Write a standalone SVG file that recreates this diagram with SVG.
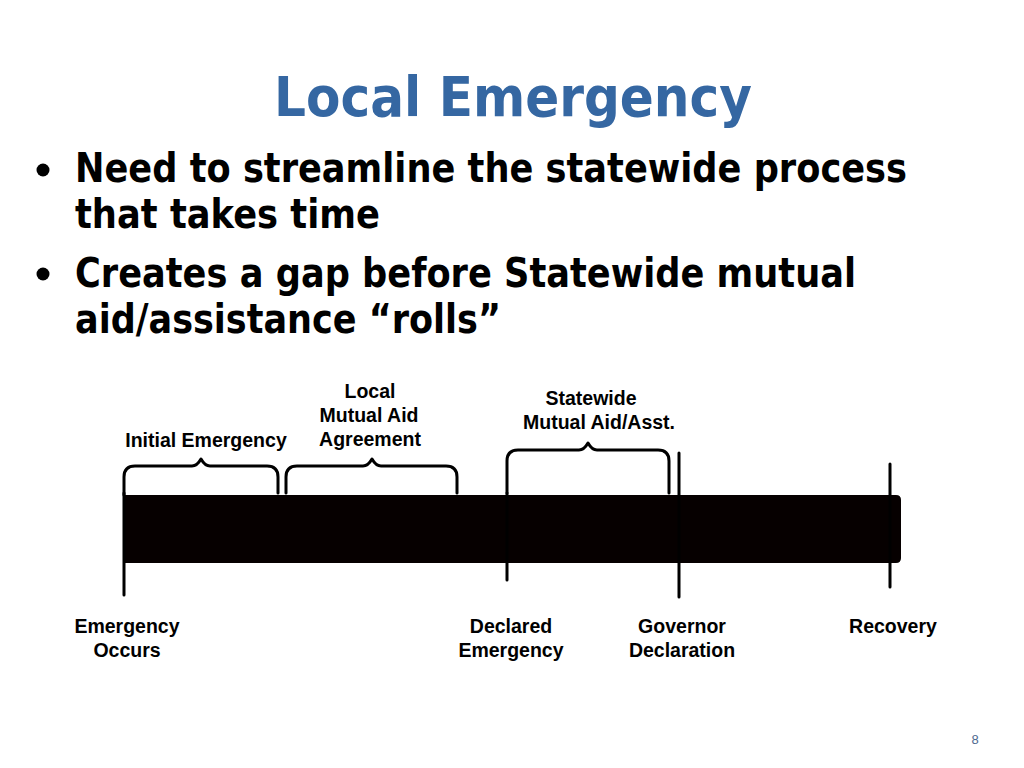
<svg xmlns="http://www.w3.org/2000/svg" width="1024" height="768" viewBox="0 0 1024 768">
<style>
.title{font-family:"DejaVu Sans","Liberation Sans",sans-serif;font-weight:bold;font-size:55px;fill:#3567A2}
.bul{font-family:"DejaVu Sans","Liberation Sans",sans-serif;font-weight:bold;font-size:40px;fill:#000}
.lbl{font-family:"Liberation Sans",Arial,sans-serif;font-weight:bold;font-size:19.5px;fill:#000;text-anchor:middle}
.brace{fill:none;stroke:#000;stroke-width:3;stroke-linecap:round;stroke-linejoin:round}
.tick{stroke:#000;stroke-width:3;stroke-linecap:round}
.pg{font-family:"Liberation Sans",Arial,sans-serif;font-size:13px;fill:#4d6a8f}
</style>
<rect width="1024" height="768" fill="#fff"/>
<g id="title">
<text class="title" x="274" y="116" textLength="478" lengthAdjust="spacingAndGlyphs">Local Emergency</text>
</g>
<g id="bullets">
<circle cx="43" cy="170" r="6.5" fill="#000"/>
<text class="bul" x="75" y="182" textLength="832" lengthAdjust="spacingAndGlyphs">Need to streamline the statewide process</text>
<text class="bul" x="75" y="228" textLength="305" lengthAdjust="spacingAndGlyphs">that takes time</text>
<circle cx="43" cy="274" r="6.5" fill="#000"/>
<text class="bul" x="75" y="287" textLength="781" lengthAdjust="spacingAndGlyphs">Creates a gap before Statewide mutual</text>
<text class="bul" x="75" y="333" textLength="426" lengthAdjust="spacingAndGlyphs">aid/assistance “rolls”</text>
</g>
<g id="timeline-bar">
<path d="M125,495 H896 Q901,495 901,500 V558 Q901,563 896,563 H125 Z" fill="#060000"/>
</g>
<g id="connectors">
<path class="brace" d="M124,495 V477 Q124,466 135,466 H192 Q197,466 201,459 Q205,466 210,466 H267 Q278,466 278,477 V493"/>
<path class="brace" d="M286,493 V477 Q286,466 297,466 H363 Q368,466 372,459 Q376,466 381,466 H446 Q457,466 457,477 V493"/>
<path class="brace" d="M507,493 V461 Q507,450 518,450 H579 Q584,450 588,443 Q592,450 597,450 H658 Q669,450 669,461 V493"/>
<line class="tick" x1="124" y1="493" x2="124" y2="595"/>
<line class="tick" x1="507" y1="493" x2="507" y2="580"/>
<line class="tick" x1="679" y1="453" x2="679" y2="597"/>
<line class="tick" x1="890" y1="464" x2="890" y2="587"/>
</g>
<g id="label-initial">
<text class="lbl" x="206" y="447" font-size="20">Initial Emergency</text>
</g>
<g id="label-local">
<text class="lbl" x="370" y="398" font-size="20">Local</text>
<text class="lbl" x="369" y="422" font-size="20">Mutual Aid</text>
<text class="lbl" x="370" y="446" font-size="20">Agreement</text>
</g>
<g id="label-statewide">
<text class="lbl" x="591" y="405" font-size="20">Statewide</text>
<text class="lbl" x="599" y="429" font-size="20">Mutual Aid/Asst.</text>
</g>
<g id="label-occurs">
<text class="lbl" x="127" y="633">Emergency</text>
<text class="lbl" x="127" y="657">Occurs</text>
</g>
<g id="label-declared">
<text class="lbl" x="511" y="633">Declared</text>
<text class="lbl" x="511" y="657">Emergency</text>
</g>
<g id="label-governor">
<text class="lbl" x="682" y="633">Governor</text>
<text class="lbl" x="682" y="657">Declaration</text>
</g>
<g id="label-recovery">
<text class="lbl" x="893" y="633">Recovery</text>
</g>
<g id="page-number">
<text class="pg" x="975" y="744" text-anchor="middle">8</text>
</g>
</svg>
